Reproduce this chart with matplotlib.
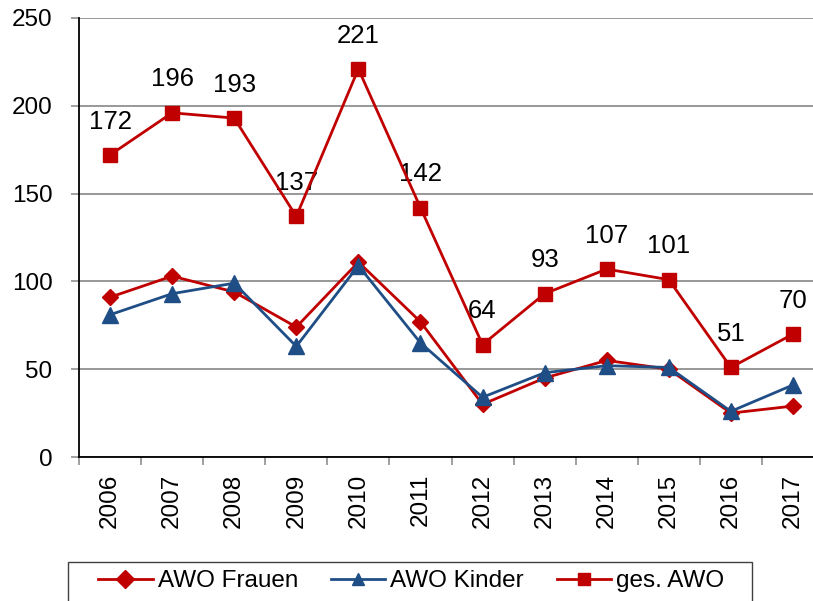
import matplotlib
matplotlib.use("Agg")
import matplotlib.pyplot as plt
from matplotlib.patches import Rectangle
from matplotlib.ticker import FixedLocator, NullFormatter

plt.rcParams['font.family'] = ['Liberation Sans', 'DejaVu Sans']

years = ['2006', '2007', '2008', '2009', '2010', '2011', '2012', '2013', '2014', '2015', '2016', '2017']
awo_frauen = [91, 103, 94, 74, 111, 77, 30, 45, 55, 50, 25, 29]
awo_kinder = [81, 93, 99, 63, 109, 65, 34, 48, 52, 51, 26, 41]
ges_awo = [172, 196, 193, 137, 221, 142, 64, 93, 107, 101, 51, 70]

red = '#C00000'
blue = '#1F4E86'
FS = 17.5

W, H = 813, 601
fig = plt.figure(figsize=(W/100, H/100), dpi=100)
ax = fig.add_axes([79/W, 144/H, 745/W, 439/H])

x = list(range(len(years)))
ax.plot(x, awo_frauen, color=red, lw=2.0, marker='D', ms=8.5, label='AWO Frauen', zorder=3)
ax.plot(x, awo_kinder, color=blue, lw=2.0, marker='^', ms=11, label='AWO Kinder', zorder=3)
ax.plot(x, ges_awo, color=red, lw=2.0, marker='s', ms=10.5, label='ges. AWO', zorder=4)

for xi, v in zip(x, ges_awo):
    ax.annotate(str(v), (xi, v), xytext=(0, 24), textcoords='offset points',
                ha='center', va='center', fontsize=18.5, color='black')

ax.set_xlim(-0.5, 11.5)
ax.set_ylim(0, 250)
ax.set_yticks([0, 50, 100, 150, 200, 250])
ax.yaxis.grid(True, color='#868686', lw=1.2)
ax.set_axisbelow(True)

ax.set_xticks(x)
ax.set_xticklabels(years, rotation=90, fontsize=FS)
ax.tick_params(axis='x', which='major', length=0, pad=12)
ax.xaxis.set_minor_locator(FixedLocator([i - 0.5 for i in range(13)]))
ax.xaxis.set_minor_formatter(NullFormatter())
ax.tick_params(axis='x', which='minor', length=6, width=1.1, color='#868686')
ax.tick_params(axis='y', length=6, width=1.1, color='#868686', labelsize=FS, pad=13)

for s in ['top', 'right']:
    ax.spines[s].set_visible(False)
for s in ['left', 'bottom']:
    ax.spines[s].set_color('black')
    ax.spines[s].set_linewidth(1.3)

# legend frame (extends beyond the bottom edge, as in the reference)
fig.patches.append(Rectangle((68/W, -0.02), (752-68)/W, 0.02 + (601-562)/H,
                             transform=fig.transFigure, fill=False,
                             edgecolor='#404040', lw=1.0))
leg = fig.legend(loc='center left', bbox_to_anchor=(98/W, 1 - 581/H), ncol=3,
                 fontsize=FS, frameon=False,
                 handlelength=2.25, handletextpad=0.2, columnspacing=1.35,
                 borderpad=0, borderaxespad=0)
for h in leg.legend_handles:
    h.set_markersize(9)

fig.savefig('out.png', dpi=100)
